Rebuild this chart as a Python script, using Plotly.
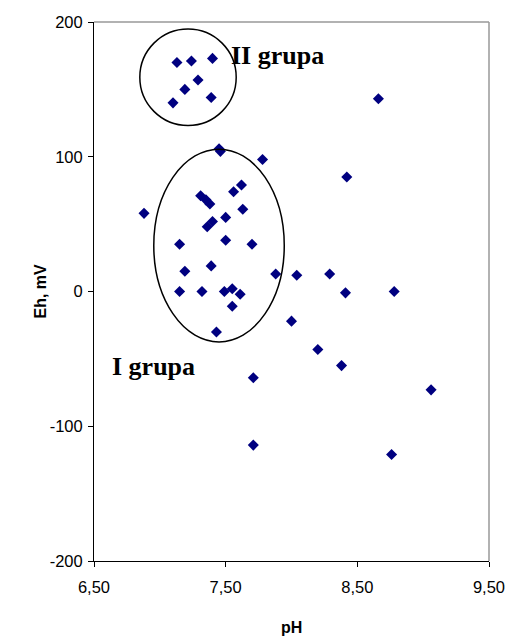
import plotly.graph_objects as go

ph = [7.13, 7.24, 7.40, 7.29, 7.19, 7.39, 7.10,
      7.45, 7.46, 7.78, 8.42, 7.62, 7.56, 7.31, 7.35, 7.38, 6.88, 7.63, 7.50, 7.40, 7.36,
      7.15, 7.50, 7.70, 7.39, 7.19, 7.88, 8.04, 8.29, 7.15, 7.32, 7.49, 7.55, 7.61, 8.41,
      7.55, 8.00, 7.43, 8.20, 8.66, 8.78, 8.38, 9.06, 7.71, 7.71, 8.76]
eh = [170, 171, 173, 157, 150, 144, 140,
      106, 104, 98, 85, 79, 74, 71, 68, 65, 58, 61, 55, 52, 48,
      35, 38, 35, 19, 15, 13, 12, 13, 0, 0, 0, 2, -2, -1,
      -11, -22, -30, -43, 143, 0, -55, -73, -64, -114, -121]

x_ticks = [6.5, 7.5, 8.5, 9.5]
x_ticktext = ["6,50", "7,50", "8,50", "9,50"]
y_ticks = [-200, -100, 0, 100, 200]
y_ticktext = ["-200", "-100", "0", "100", "200"]

fig = go.Figure()
fig.add_trace(go.Scatter(
    x=ph, y=eh, mode="markers",
    marker=dict(symbol="diamond", size=8.5, color="#000080"),
    showlegend=False, cliponaxis=False,
))

fig.add_shape(type="circle", xref="x", yref="y", x0=6.848, x1=7.58, y0=123.2, y1=194.8,
              line=dict(color="black", width=1.5))
fig.add_shape(type="circle", xref="x", yref="y", x0=6.954, x1=7.945, y0=-37.4, y1=105.6,
              line=dict(color="black", width=1.5))
# gray top/right border
fig.add_shape(type="line", xref="paper", yref="paper", x0=0, x1=1, y0=1, y1=1,
              line=dict(color="#999999", width=1.5))
fig.add_shape(type="line", xref="paper", yref="paper", x0=1, x1=1, y0=0, y1=1,
              line=dict(color="#999999", width=1.5))

fig.add_annotation(x=7.897, y=175, xref="x", yref="y", text="<b>II grupa</b>", showarrow=False,
                   font=dict(family="Liberation Serif", size=26, color="black"))
fig.add_annotation(x=6.949, y=-56, xref="x", yref="y", text="<b>I grupa</b>", showarrow=False,
                   font=dict(family="Liberation Serif", size=26, color="black"))

# axis titles
fig.add_annotation(x=0.5, y=0, xref="paper", yref="paper", yanchor="middle", yshift=-66,
                   text="<b>pH</b>", showarrow=False,
                   font=dict(family="Liberation Sans", size=16, color="black"))
fig.add_annotation(x=0, y=0.5, xref="paper", yref="paper", xanchor="center", xshift=-54,
                   text="<b>Eh, mV</b>", textangle=-90, showarrow=False,
                   font=dict(family="Liberation Sans", size=16, color="black"))

fig.update_layout(
    width=506, height=637,
    margin=dict(l=94, r=17, t=22, b=76),
    paper_bgcolor="white", plot_bgcolor="white",
    font=dict(family="Liberation Sans", size=16.5, color="black"),
)
fig.update_xaxes(
    range=[6.5, 9.5], tickvals=x_ticks, ticktext=x_ticktext, automargin=False,
    showgrid=False, zeroline=False, showline=True, linecolor="black", linewidth=1,
    ticks="outside", ticklen=5, tickcolor="black", ticklabelstandoff=6,
)
fig.update_yaxes(
    range=[-200, 200], tickvals=y_ticks, ticktext=y_ticktext, automargin=False,
    showgrid=False, zeroline=False, showline=True, linecolor="black", linewidth=1,
    ticks="outside", ticklen=5, tickcolor="black", ticklabelstandoff=2,
)

fig.write_html("out.html")
